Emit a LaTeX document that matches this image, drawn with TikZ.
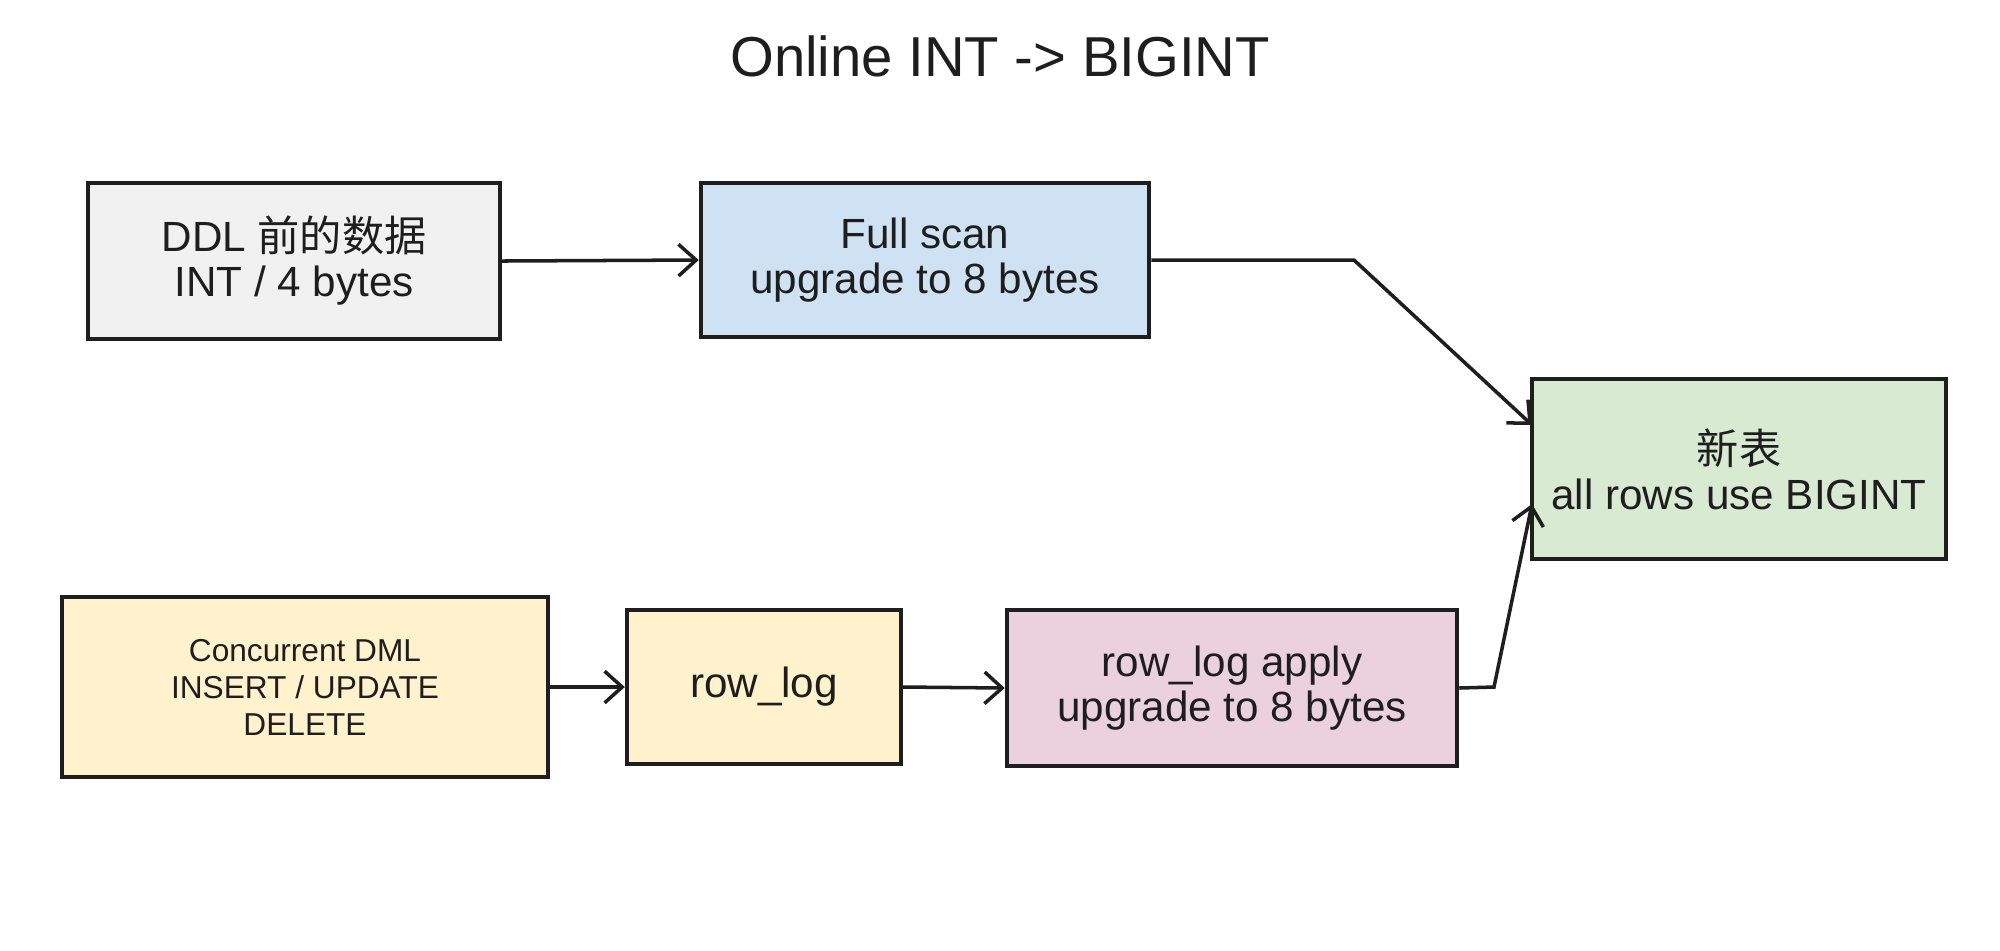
\documentclass[tikz,border=0pt]{standalone}
\usepackage{fontspec}
\setmainfont{Liberation Sans}
\newfontfamily\cjk{Noto Sans CJK SC}
\usetikzlibrary{arrows.meta}
\definecolor{ink}{HTML}{1E1E1E}
\definecolor{boxgray}{HTML}{F1F1F1}
\definecolor{boxblue}{HTML}{CFE2F3}
\definecolor{boxgreen}{HTML}{D9EAD3}
\definecolor{boxyellow}{HTML}{FFF2CC}
\definecolor{boxpink}{HTML}{EAD1DC}
\begin{document}
\begin{tikzpicture}[x=0.01cm,y=-0.01cm,
  box/.style={draw=ink,line width=1.2pt,text=ink,align=center,inner sep=0pt,
    font=\fontsize{12}{12.8}\selectfont},
  flow/.style={draw=ink,line width=1pt,-{Straight Barb[length=5pt,width=9pt]}}]
\useasboundingbox (0,0) rectangle (2000,950);

\node[text=ink,font=\fontsize{16}{18}\selectfont] (title) at (1000,56) {Online INT -> BIGINT};

% upper row
\node[box,fill=boxgray,minimum width=4.12cm,minimum height=1.56cm] (old) at (294,261)
  {DDL {\cjk 前的数据}\\INT / 4 bytes};
\node[box,fill=boxblue,minimum width=4.48cm,minimum height=1.54cm] (scan) at (925,260)
  {Full scan\\upgrade to 8 bytes};
\node[box,fill=boxgreen,minimum width=4.14cm,minimum height=1.80cm] (newtbl) at (1739,469)
  {{\cjk 新表}\\all rows use BIGINT};

% lower row
\node[box,fill=boxyellow,minimum width=4.85cm,minimum height=1.80cm,
  font=\fontsize{9}{10.5}\selectfont] (dml) at (305,687)
  {Concurrent DML\\INSERT / UPDATE\\DELETE};
\node[box,fill=boxyellow,minimum width=2.74cm,minimum height=1.54cm] (rowlog) at (764,687)
  {row\_log};
\node[box,fill=boxpink,minimum width=4.50cm,minimum height=1.56cm] (apply) at (1232,688)
  {row\_log apply\\upgrade to 8 bytes};

\coordinate (bend1) at (1354,260);
\coordinate (in1) at (1532,425);
\coordinate (bend2) at (1494,687);
\coordinate (in2) at (1532,504);

\draw[flow] (old.east) -- (scan.west);
\draw[flow] (scan.east) -- (bend1) -- (in1);
\draw[flow] (dml.east) -- (rowlog.west);
\draw[flow] (rowlog.east) -- (apply.west);
\draw[flow] (apply.east) -- (bend2) -- (in2);
\end{tikzpicture}
\end{document}
